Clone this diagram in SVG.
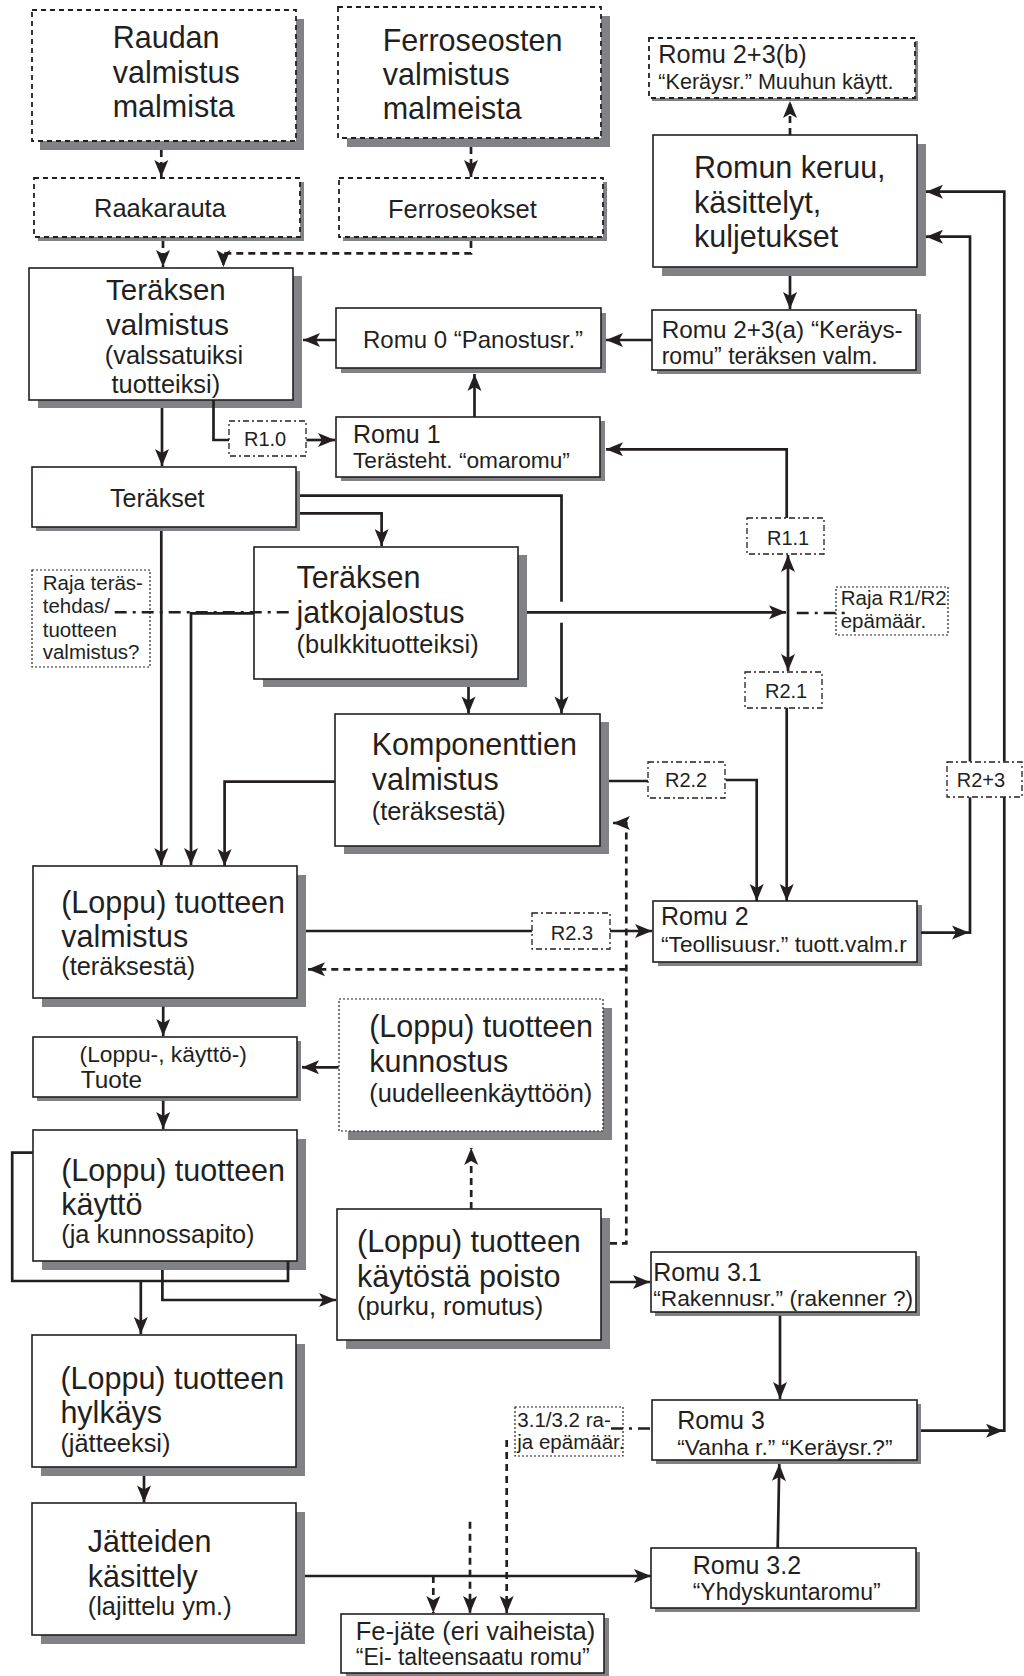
<svg xmlns="http://www.w3.org/2000/svg" width="1024" height="1676" viewBox="0 0 1024 1676">
<style>
.box{fill:#fff;stroke:#231f20;stroke-width:1.6}
.dbox{fill:#fff;stroke:#231f20;stroke-width:1.8;stroke-dasharray:5,4}
.fbox{fill:#fff;stroke:#231f20;stroke-width:1.2;stroke-dasharray:2,2}
.rbox{fill:#fff;stroke:#231f20;stroke-width:1.3;stroke-dasharray:6,3,2,3}
.sh{fill:#808285}
text{font-family:"Liberation Sans",Arial,sans-serif;fill:#231f20}
.big{font-size:30.5px}
.med{font-size:25.4px}
.l1{font-size:25px}
.l2{font-size:22.7px}
.rl{font-size:20px}
.note{font-size:20.5px}
.c{fill:none;stroke:#231f20;stroke-width:2.7}
.cd{fill:none;stroke:#231f20;stroke-width:2.7;stroke-dasharray:7,5}
.cdd{fill:none;stroke:#231f20;stroke-width:2.6;stroke-dasharray:12,6,3,6}
.a{marker-end:url(#ah)}
</style>
<defs>
<marker id="ah" viewBox="-18 -8 19 16" refX="0" refY="0" markerWidth="19" markerHeight="16" markerUnits="userSpaceOnUse" orient="auto-start-reverse">
<path d="M0,0 L-17,-7 L-13,0 L-17,7 Z" fill="#231f20"/>
</marker>
</defs>

<g id="raudan-valmistus">
<rect class="sh" x="40" y="19" width="264" height="131"/>
<rect class="dbox" x="32" y="10" width="264" height="131"/>
<text class="big" x="112.7" y="48.3">Raudan</text>
<text class="big" x="112.7" y="82.7">valmistus</text>
<text class="big" x="112.7" y="116.7">malmista</text>
</g>
<g id="ferroseosten-valmistus">
<rect class="sh" x="347" y="16" width="263" height="131"/>
<rect class="dbox" x="338" y="7" width="263" height="131"/>
<text class="big" x="382.7" y="50.7">Ferroseosten</text>
<text class="big" x="382.7" y="85">valmistus</text>
<text class="big" x="382.7" y="119">malmeista</text>
</g>
<g id="raakarauta">
<rect class="sh" x="38" y="182" width="266" height="59"/>
<rect class="dbox" x="34" y="178" width="266" height="59"/>
<text class="l1" x="94" y="216.5" style="font-size:25.5px">Raakarauta</text>
</g>
<g id="ferroseokset">
<rect class="sh" x="343" y="182" width="264" height="59"/>
<rect class="dbox" x="339" y="178" width="264" height="59"/>
<text class="l1" x="388" y="218" style="font-size:25.5px">Ferroseokset</text>
</g>
<g id="teraksen-valmistus">
<rect class="sh" x="38" y="276" width="264" height="132"/>
<rect class="box" x="29" y="268" width="264" height="132"/>
<text class="big" x="106" y="300" style="font-size:29.5px">Teräksen</text>
<text class="big" x="106" y="335" style="font-size:29.5px">valmistus</text>
<text class="med" x="104.8" y="364">(valssatuiksi</text>
<text class="med" x="111.5" y="392.7">tuotteiksi)</text>
</g>
<g id="romu0">
<rect class="sh" x="341" y="313" width="265" height="60"/>
<rect class="box" x="336" y="308" width="265" height="60"/>
<text class="l1" x="363" y="348.3" style="font-size:24px">Romu 0 “Panostusr.”</text>
</g>
<g id="romun-keruu">
<rect class="sh" x="662" y="144" width="264" height="132"/>
<rect class="box" x="653" y="135" width="264" height="132"/>
<text class="big" x="694" y="178.3">Romun keruu,</text>
<text class="big" x="694" y="213.3">käsittelyt,</text>
<text class="big" x="694" y="246.7">kuljetukset</text>
</g>
<g id="romu23b">
<rect class="sh" x="652" y="41" width="266" height="60"/>
<rect class="dbox" x="649" y="38" width="266" height="60"/>
<text class="l1" x="658.3" y="63.3" style="font-size:25.3px">Romu 2+3(b)</text>
<text class="l2" x="658.3" y="89.3" style="font-size:21.6px">“Keräysr.” Muuhun käytt.</text>
</g>
<g id="romu23a">
<rect class="sh" x="657" y="314" width="264" height="60"/>
<rect class="box" x="652" y="310" width="264" height="60"/>
<text class="l1" x="661.7" y="338.3" style="font-size:24.3px">Romu 2+3(a) “Keräys-</text>
<text class="l1" x="661.7" y="364.3" style="font-size:23px">romu” teräksen valm.</text>
</g>
<g id="romu1">
<rect class="sh" x="341" y="421" width="264" height="60"/>
<rect class="box" x="336" y="417" width="264" height="60"/>
<text class="l1" x="353" y="443.3">Romu 1</text>
<text class="l2" x="353" y="468.3">Terästeht. “omaromu”</text>
</g>
<g id="r10">
<rect class="rbox" x="229" y="421" width="77" height="35"/>
<text class="rl" x="244" y="446">R1.0</text>
</g>
<g id="terakset">
<rect class="sh" x="36" y="471" width="264" height="60"/>
<rect class="box" x="32" y="467" width="264" height="60"/>
<text class="l1" x="110" y="507.3">Teräkset</text>
</g>
<g id="jatkojalostus">
<rect class="sh" x="263" y="555" width="264" height="132"/>
<rect class="box" x="254" y="547" width="264" height="132"/>
<text class="big" x="296.6" y="588.3">Teräksen</text>
<text class="big" x="296.6" y="622.7">jatkojalostus</text>
<text class="med" x="296.6" y="652.7">(bulkkituotteiksi)</text>
</g>
<g id="raja-terastehdas">
<rect class="fbox" x="32" y="570" width="118" height="97"/>
<text class="note" x="42.7" y="590">Raja teräs-</text>
<text class="note" x="42.7" y="613.3">tehdas/</text>
<text class="note" x="42.7" y="636.7">tuotteen</text>
<text class="note" x="42.7" y="659.3">valmistus?</text>
</g>
<g id="r11">
<rect class="rbox" x="747" y="518" width="77" height="36"/>
<text class="rl" x="767" y="544.6">R1.1</text>
</g>
<g id="raja-r1r2">
<rect class="fbox" x="836" y="587" width="112" height="48"/>
<text class="note" x="840.7" y="605.3">Raja R1/R2</text>
<text class="note" x="840.7" y="627.8">epämäär.</text>
</g>
<g id="r21">
<rect class="rbox" x="745" y="672" width="77" height="36"/>
<text class="rl" x="765" y="698">R2.1</text>
</g>
<g id="komponenttien-valmistus">
<rect class="sh" x="344" y="722" width="265" height="132"/>
<rect class="box" x="335" y="714" width="265" height="132"/>
<text class="big" x="371.7" y="755">Komponenttien</text>
<text class="big" x="371.7" y="790">valmistus</text>
<text class="med" x="371.7" y="820">(teräksestä)</text>
</g>
<g id="r22">
<rect class="rbox" x="648" y="762" width="77" height="36"/>
<text class="rl" x="665" y="787.4">R2.2</text>
</g>
<g id="r23plus">
<rect class="rbox" x="947" y="762" width="75" height="35"/>
<text class="rl" x="956.7" y="786.6">R2+3</text>
</g>
<g id="tuotteen-valmistus">
<rect class="sh" x="42" y="875" width="264" height="132"/>
<rect class="box" x="33" y="866" width="264" height="132"/>
<text class="big" x="61.2" y="913.3">(Loppu) tuotteen</text>
<text class="big" x="61.2" y="946.7">valmistus</text>
<text class="med" x="61.2" y="975">(teräksestä)</text>
</g>
<g id="r23">
<rect class="rbox" x="532" y="913" width="78" height="36"/>
<text class="rl" x="550.8" y="940">R2.3</text>
</g>
<g id="romu2">
<rect class="sh" x="658" y="905" width="264" height="61"/>
<rect class="box" x="653" y="901" width="264" height="61"/>
<text class="l1" x="661" y="924.8">Romu 2</text>
<text class="l2" x="661" y="951.6">“Teollisuusr.” tuott.valm.r</text>
</g>
<g id="tuote">
<rect class="sh" x="37" y="1041" width="264" height="60"/>
<rect class="box" x="33" y="1037" width="264" height="60"/>
<text class="l2" x="79.6" y="1061.7" style="font-size:22.8px">(Loppu-, käyttö-)</text>
<text class="l1" x="80.8" y="1088.3" style="font-size:24.3px">Tuote</text>
</g>
<g id="tuotteen-kunnostus">
<rect class="sh" x="348" y="1008" width="264" height="132"/>
<rect class="fbox" x="339" y="999" width="264" height="132"/>
<text class="big" x="369.2" y="1036.7">(Loppu) tuotteen</text>
<text class="big" x="369.2" y="1071.7">kunnostus</text>
<text class="med" x="369.2" y="1101.7">(uudelleenkäyttöön)</text>
</g>
<g id="tuotteen-kaytto">
<rect class="sh" x="42" y="1139" width="264" height="131"/>
<rect class="box" x="33" y="1130" width="264" height="131"/>
<text class="big" x="61.2" y="1180.7">(Loppu) tuotteen</text>
<text class="big" x="61.2" y="1215">käyttö</text>
<text class="med" x="61.2" y="1243.3">(ja kunnossapito)</text>
</g>
<g id="kaytosta-poisto">
<rect class="sh" x="346" y="1218" width="264" height="131"/>
<rect class="box" x="337" y="1209" width="264" height="131"/>
<text class="big" x="357" y="1251.7">(Loppu) tuotteen</text>
<text class="big" x="357" y="1286.7">käytöstä poisto</text>
<text class="med" x="357" y="1315">(purku, romutus)</text>
</g>
<g id="romu31">
<rect class="sh" x="655" y="1256" width="265" height="60"/>
<rect class="box" x="651" y="1252" width="265" height="60"/>
<text class="l1" x="653.3" y="1281">Romu 3.1</text>
<text class="l2" x="653.3" y="1306">“Rakennusr.” (rakenner ?)</text>
</g>
<g id="tuotteen-hylkays">
<rect class="sh" x="41" y="1344" width="264" height="132"/>
<rect class="box" x="32" y="1335" width="264" height="132"/>
<text class="big" x="60.4" y="1389.3">(Loppu) tuotteen</text>
<text class="big" x="60.4" y="1423.3">hylkäys</text>
<text class="med" x="60.4" y="1451.7">(jätteeksi)</text>
</g>
<g id="raja-31-32">
<rect class="fbox" x="515" y="1407" width="108" height="49"/>
<text class="note" x="517.3" y="1426.7">3.1/3.2 ra-</text>
<text class="note" x="517.3" y="1449.3">ja epämäär.</text>
</g>
<g id="romu3">
<rect class="sh" x="656" y="1404" width="265" height="60"/>
<rect class="box" x="652" y="1400" width="265" height="60"/>
<text class="l1" x="677.3" y="1429.3">Romu 3</text>
<text class="l2" x="677.3" y="1455">“Vanha r.” “Keräysr.?”</text>
</g>
<g id="jatteiden-kasittely">
<rect class="sh" x="41" y="1512" width="264" height="132"/>
<rect class="box" x="32" y="1503" width="264" height="132"/>
<text class="big" x="87.7" y="1551.7">Jätteiden</text>
<text class="big" x="87.7" y="1586.7">käsittely</text>
<text class="med" x="87.7" y="1615">(lajittelu ym.)</text>
</g>
<g id="romu32">
<rect class="sh" x="655" y="1552" width="265" height="60"/>
<rect class="box" x="651" y="1548" width="265" height="60"/>
<text class="l1" x="692.7" y="1574.3">Romu 3.2</text>
<text class="l2" x="692.7" y="1600" style="font-size:23px">“Yhdyskuntaromu”</text>
</g>
<g id="fe-jate">
<rect class="sh" x="346" y="1618" width="263" height="59"/>
<rect class="box" x="341" y="1614" width="263" height="59"/>
<text class="l1" x="355.8" y="1640" style="font-size:25.5px">Fe-jäte (eri vaiheista)</text>
<text class="l2" x="355.8" y="1665" style="font-size:23px">“Ei- talteensaatu romu”</text>
</g>

<g id="connectors">
<path class="cd a" d="M161.3,150 V177"/>
<path class="cd a" d="M471,147 V177"/>
<path class="cd a" d="M163,241 V267"/>
<path class="cd a" d="M471,241 V253.3 H223.4 V267"/>
<path class="c a" d="M336,340 H303"/>
<path class="c a" d="M652,340 H606"/>
<path class="c a" d="M790,276 V309"/>
<path class="cd a" d="M790,135 V101"/>
<path class="c a" d="M474.5,417 V374"/>
<path class="c a" d="M162,408 V466"/>
<path class="c" d="M213.5,400 V440 H229"/>
<path class="c a" d="M306.4,440 H335"/>
<path class="c a" d="M786.7,518 V449.3 H606"/>
<path class="c a" d="M300,513.3 H381.6 V546"/>
<path class="c" d="M300,495.7 H561.5 V601.7"/>
<path class="c a" d="M561.5,622.7 V713.5"/>
<path class="c a" d="M468.5,687 V713.5"/>
<path class="c a" d="M527,612.3 H786"/>
<path class="c a" style="marker-start:url(#ah)" d="M788,555 V671"/>
<path class="cdd" d="M796.7,613 H846.7"/>
<path class="c a" d="M161.3,531 V865"/>
<path class="c a" d="M254,613.3 H191 V865"/>
<path class="cdd" d="M114.7,612.3 H292.6"/>
<path class="c a" d="M335,781.7 H224.6 V866"/>
<path class="c" d="M609,781 H648"/>
<path class="c a" d="M725.7,780 H756.7 V901"/>
<path class="c a" d="M786.7,707.7 V901"/>
<path class="c" d="M306,931 H532"/>
<path class="c a" d="M610,931 H652"/>
<path class="c a" d="M921,932.6 H969"/>
<path class="c" d="M970,934 V797.3"/>
<path class="c a" d="M970,761.6 V236.7 H926"/>
<path class="c a" d="M921,1430.7 H1003"/>
<path class="c" d="M1004.3,1432 V797.3"/>
<path class="c a" d="M1004.3,761.6 V191.7 H926"/>
<path class="c a" d="M163.2,1006.7 V1036"/>
<path class="c a" d="M338.6,1067.3 H302"/>
<path class="c a" d="M163.2,1100.7 V1129"/>
<path class="c" d="M32.7,1152.7 H12.2 V1281 H288 V1261"/>
<path class="c a" d="M162.4,1270 V1300 H336"/>
<path class="c a" d="M140.8,1281 V1334"/>
<path class="cd a" d="M471.2,1209 V1148"/>
<path class="cd a" d="M610,1243.3 H626.3 V823 H613"/>
<path class="cd a" d="M626.3,969.3 H308"/>
<path class="c a" d="M610,1282 H650"/>
<path class="c a" d="M780,1315.7 V1399"/>
<path class="c a" d="M777.7,1548 L779.3,1464"/>
<path class="c a" d="M144,1476 V1502.5"/>
<path class="c a" d="M305,1576 H651"/>
<path class="cd a" d="M433.3,1576 V1613"/>
<path class="cd a" d="M470,1521.7 V1613"/>
<path class="cd a" d="M506.7,1440 V1613"/>
<path class="cdd" d="M611,1428.5 H655"/>
</g>
</svg>
